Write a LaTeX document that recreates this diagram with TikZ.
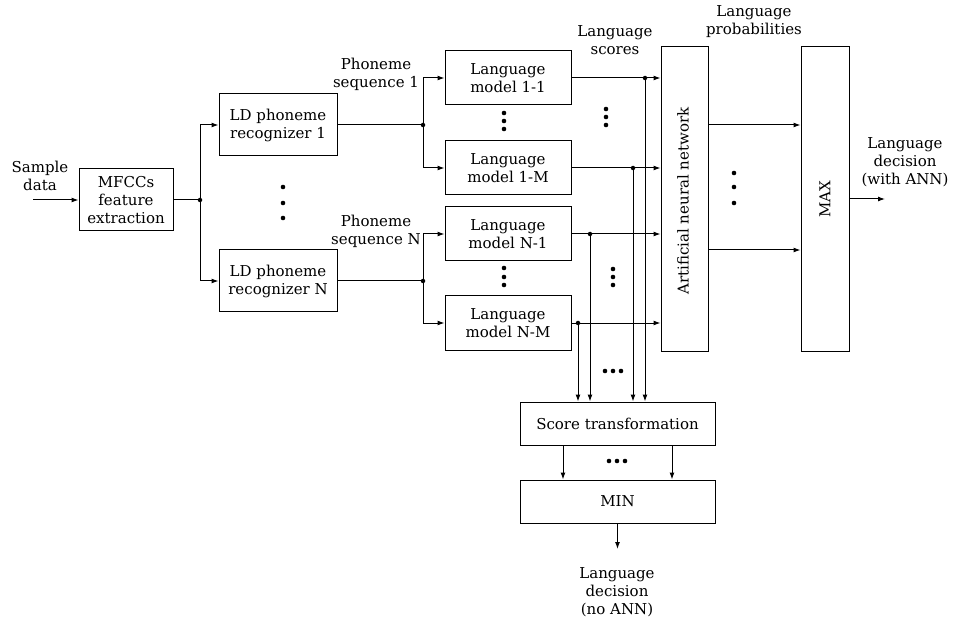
\documentclass[tikz,border=0pt]{standalone}
\usepackage{fontspec}
\setmainfont{DejaVu Serif}
\usetikzlibrary{arrows.meta}
\begin{document}
\begin{tikzpicture}[x=1pt,y=-1pt,
  every node/.style={font=\fontsize{15}{18}\selectfont, inner sep=0pt},
  box/.style={draw, line width=1pt, align=center},
  lbl/.style={align=center},
  conn/.style={line width=1pt},
  arr/.style={line width=1pt, -{Latex[length=7pt,width=5pt]}},
  jdot/.style={circle, fill, minimum size=4.5pt, inner sep=0pt}]
\useasboundingbox (0,0) rectangle (953,620);

% processing blocks
\node[box, minimum width=94pt, minimum height=62pt] (mfcc) at (126,200) {MFCCs\\feature\\extraction};
\node[box, minimum width=118pt, minimum height=62pt] (ld1) at (278,125) {LD phoneme\\recognizer 1};
\node[box, minimum width=118pt, minimum height=62pt] (ldN) at (278,281) {LD phoneme\\recognizer N};
\node[box, minimum width=126pt, minimum height=54pt] (lm11) at (508,78) {Language\\model 1-1};
\node[box, minimum width=126pt, minimum height=54pt] (lm1M) at (508,168) {Language\\model 1-M};
\node[box, minimum width=126pt, minimum height=54pt] (lmN1) at (508,234) {Language\\model N-1};
\node[box, minimum width=126pt, minimum height=54pt] (lmNM) at (508,323) {Language\\model N-M};
\node[box, minimum width=47pt, minimum height=304pt] (ann) at (684.5,199) {};
\node[rotate=90] (anntxt) at (683,201) {Artificial neural network};
\node[box, minimum width=48pt, minimum height=304pt] (max) at (825,199) {};
\node[rotate=90] (maxtxt) at (max.center) {MAX};
\node[box, minimum width=195pt, minimum height=43pt] (score) at (617.5,423.5) {Score transformation};
\node[box, minimum width=195pt, minimum height=43pt] (min) at (617.5,501.5) {MIN};

% labels
\node[lbl] (sample) at (40,176) {Sample\\data};
\node[lbl] (seq1) at (376,74) {Phoneme\\sequence 1};
\node[lbl] (seqN) at (376,231) {Phoneme\\sequence N};
\node[lbl] (scores) at (615,40) {Language\\scores};
\node[lbl] (probs) at (754,22) {Language\\probabilities};
\node[lbl] (decann) at (905,162) {Language\\decision\\(with ANN)};
\node[lbl] (decmin) at (617,592) {Language\\decision\\(no ANN)};

% junction points
\coordinate (in) at (33,200);
\node[jdot] (j0) at (200,200) {};
\node[jdot] (j1) at (423,125) {};
\node[jdot] (j2) at (423,281) {};
\node[jdot] (s11) at (645,78) {};
\node[jdot] (s1M) at (633,168) {};
\node[jdot] (sN1) at (590,234) {};
\node[jdot] (sNM) at (578,323) {};
\coordinate (out) at (885,199);
\coordinate (minout) at (617.5,549);

% input and feature extraction
\draw[arr] (in) -- (mfcc.west);
\draw[conn] (mfcc.east) -- (j0.center);
\draw[arr] (j0.center) |- (ld1.west);
\draw[arr] (j0.center) |- (ldN.west);

% phoneme recognizers to language models
\draw[conn] (ld1.east |- j1) -- (j1.center);
\draw[arr] (j1.center) |- (lm11.west);
\draw[arr] (j1.center) |- (lm1M.west);
\draw[conn] (ldN.east |- j2) -- (j2.center);
\draw[arr] (j2.center) |- (lmN1.west);
\draw[arr] (j2.center) |- (lmNM.west);

% language scores to the network
\draw[arr] (lm11.east) -- (ann.west |- lm11.east);
\draw[arr] (lm1M.east) -- (ann.west |- lm1M.east);
\draw[arr] (lmN1.east) -- (ann.west |- lmN1.east);
\draw[arr] (lmNM.east) -- (ann.west |- lmNM.east);

% language scores to score transformation
\draw[arr] (s11.center) -- (s11 |- score.north);
\draw[arr] (s1M.center) -- (s1M |- score.north);
\draw[arr] (sN1.center) -- (sN1 |- score.north);
\draw[arr] (sNM.center) -- (sNM |- score.north);

% network outputs
\draw[arr] (ann.east |- 0,125) -- (max.west |- 0,125);
\draw[arr] (ann.east |- 0,250) -- (max.west |- 0,250);
\draw[arr] (max.east |- out) -- (out);

% score transformation to MIN
\draw[arr] (score.south -| 563,0) -- (min.north -| 563,0);
\draw[arr] (score.south -| 672,0) -- (min.north -| 672,0);
\draw[arr] (min.south) -- (minout);

% ellipsis dots
\foreach \x/\y in {283/187,283/203,283/218,
                   504/113,504/121,504/129,
                   504/268,504/277,504/285,
                   606/109,606/117,606/125,
                   613/269,613/277,613/285,
                   734/173,734/187,734/203,
                   605/371,613/371,621/371,
                   609/461,617/461,625/461}
  \fill (\x,\y) circle (2.3pt);
\end{tikzpicture}
\end{document}
